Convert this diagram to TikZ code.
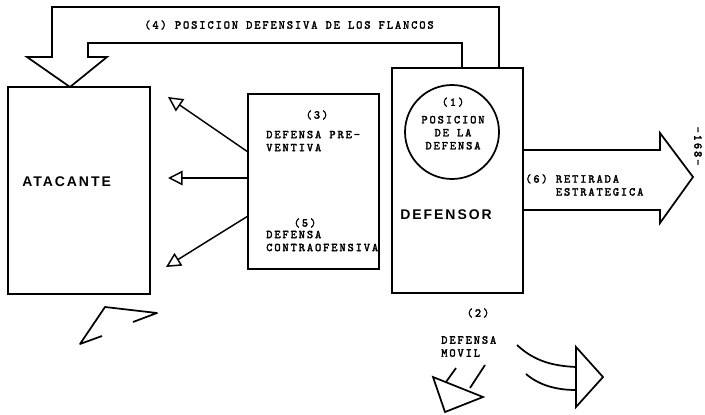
\documentclass[tikz,border=0pt]{standalone}
\usepackage{fontspec}
\usetikzlibrary{arrows.meta,fit,calc}
\newfontfamily\twfont{lmmono10-regular.otf}[LetterSpace=16,FakeBold=2.4]
\newfontfamily\hdfont{Liberation Sans}[LetterSpace=14]
\tikzset{
 dm box/.style={draw,line width=1.3pt,inner sep=0pt,outer sep=0pt},
 dm outline/.style={line width=1.3pt,line join=miter},
 dm arrow/.style={line width=1.1pt,-{Triangle[open,length=11pt,width=11pt]}},
 dm text/.style={font=\twfont\fontsize{8.9}{9.75}\selectfont,inner sep=0pt,align=left},
 dm title/.style={font=\hdfont\bfseries\fontsize{10.5}{12}\selectfont,inner sep=0pt}
}
\begin{document}
\begin{tikzpicture}[x=0.75pt,y=-0.75pt]
 \useasboundingbox (0,0) rectangle (705,414);
 % boxes
 \node[dm box,fit={(8,87) (150,294)}] (atacante) {};
 \node[dm box,fit={(248,94) (379,269)}] (modos) {};
 \node[dm box,fit={(392,68) (523,293)}] (defensor) {};
 \node[dm box,circle,minimum size=70.5pt] (posicion) at (452,132) {};
 \node[dm title,anchor=west] (atacante label) at (22,182) {ATACANTE};
 \node[dm title,anchor=west] (defensor label) at (400,215) {DEFENSOR};
 \node[dm text,align=center] (posicion label) at (453,123.5)
   {(1)\\[3.4pt]POSICION\\DE LA\\DEFENSA};
 % (4) flancos
 \draw[dm outline] (462,0 |- defensor.north) |- (88,43) -- (88,57) -- (107,57)
   -- (70,0 |- atacante.north) -- (27,57) -- (52,57) |- (499,7)
   -- (499,0 |- defensor.north);
 \node[dm text] (flancos label) at (289,25) {(4) POSICION DEFENSIVA DE LOS FLANCOS};
 % (3) y (5)
 \foreach \n/\y/\tx/\ty in {prev/152/168/97,mid/178/168/178,contra/216/166/267}{
   \coordinate (\n tip) at (\tx,\ty);
   \draw[dm arrow] (modos.west |- 0,\y) -- (\n tip);
 }
 \node[dm text] (prev num) at (317,115) {(3)};
 \node[dm text,anchor=west] (prev label) at (266,141) {DEFENSA PRE-\\VENTIVA};
 \node[dm text] (contra num) at (305,223) {(5)};
 \node[dm text,anchor=west] (contra label) at (266,241) {DEFENSA\\CONTRAOFENSIVA};
 % (6) retirada
 \draw[dm outline] (defensor.east |- 0,150) -- (660,150) -- (660,133) -- (693,177)
   -- (660,223) -- (660,210) -- (defensor.east |- 0,210);
 \node[dm text,anchor=west] (retirada label) at (525,185)
   {(6) RETIRADA\\\hphantom{(6) }ESTRATEGICA};
 % (2) movil
 \node[dm text] (movil num) at (478,313) {(2)};
 \node[dm text,anchor=west] (movil label) at (441,346.5) {DEFENSA\\MOVIL};
 \draw[dm outline] (433,377) -- (483,397) -- (445,412) -- cycle;
 \draw[dm outline] (446,382) -- (456,368) (470,388) -- (485,365);
 \draw[dm outline] (576,347) -- (603,377) -- (576,407) -- cycle;
 \draw[dm outline] (517,345) .. controls (535,362) and (555,366) .. (576,367);
 \draw[dm outline] (526,374) .. controls (540,386) and (558,390) .. (576,390);
 \draw[dm outline,line join=round] (133,322) -- (157,313) -- (105,307) -- (80,344) -- (102,336);
 \node[dm text,rotate=-90] (page) at (698,146) {-168-};
\end{tikzpicture}
\end{document}
